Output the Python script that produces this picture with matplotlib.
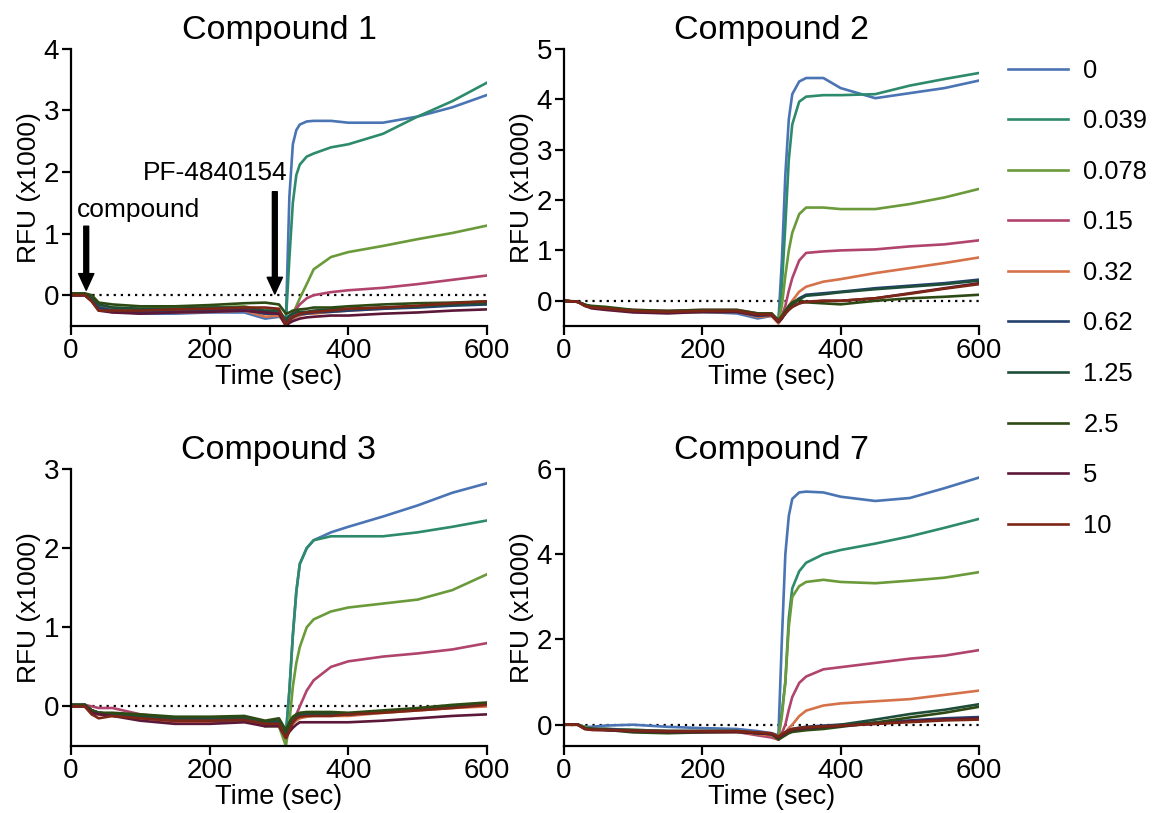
import matplotlib
matplotlib.use("Agg")
import matplotlib.pyplot as plt

plt.rcParams["font.family"] = ["Liberation Sans", "DejaVu Sans"]

time_s = [0, 20, 30, 40, 60, 100, 150, 200, 250, 280, 300, 310, 315, 320,
          325, 330, 340, 350, 375, 400, 450, 500, 550, 600]

concentrations = ["0", "0.039", "0.078", "0.15", "0.32", "0.62", "1.25",
                  "2.5", "5", "10"]
colors = ["#4a74b4", "#2e8a6c", "#6a9a3a", "#b0446c", "#d6724a",
          "#24406e", "#1e4d3a", "#2e4a14", "#5c1838", "#7c2616"]

# RFU (x1000), one list per concentration
cmpd1 = [
    [0.02, 0.02, -0.05, -0.2, -0.25, -0.3, -0.3, -0.28, -0.28, -0.38, -0.35, -0.4, 1.6, 2.45, 2.68, 2.77, 2.82, 2.83, 2.83, 2.8, 2.8, 2.9, 3.05, 3.25],
    [0.0, 0.02, -0.05, -0.15, -0.22, -0.25, -0.25, -0.22, -0.22, -0.28, -0.3, -0.42, 0.6, 1.5, 1.95, 2.12, 2.25, 2.3, 2.4, 2.45, 2.62, 2.9, 3.15, 3.45],
    [0.02, 0.02, -0.05, -0.18, -0.2, -0.22, -0.2, -0.2, -0.18, -0.25, -0.25, -0.42, -0.35, -0.3, -0.18, -0.05, 0.18, 0.42, 0.62, 0.7, 0.8, 0.91, 1.01, 1.13],
    [0.0, 0.0, -0.08, -0.2, -0.25, -0.28, -0.25, -0.25, -0.22, -0.3, -0.3, -0.45, -0.38, -0.3, -0.22, -0.15, -0.05, 0.0, 0.05, 0.08, 0.12, 0.18, 0.25, 0.32],
    [0.0, 0.0, -0.08, -0.22, -0.28, -0.28, -0.28, -0.27, -0.25, -0.35, -0.33, -0.48, -0.42, -0.38, -0.35, -0.33, -0.3, -0.3, -0.27, -0.25, -0.22, -0.18, -0.15, -0.12],
    [0.0, 0.0, -0.08, -0.2, -0.25, -0.27, -0.27, -0.25, -0.24, -0.3, -0.3, -0.45, -0.4, -0.36, -0.33, -0.31, -0.3, -0.28, -0.27, -0.25, -0.22, -0.2, -0.17, -0.15],
    [0.02, 0.02, -0.05, -0.15, -0.2, -0.22, -0.22, -0.2, -0.2, -0.25, -0.25, -0.4, -0.33, -0.3, -0.28, -0.27, -0.27, -0.25, -0.23, -0.22, -0.2, -0.18, -0.15, -0.13],
    [0.03, 0.03, 0.0, -0.12, -0.15, -0.18, -0.18, -0.16, -0.13, -0.12, -0.15, -0.3, -0.28, -0.25, -0.24, -0.23, -0.22, -0.2, -0.2, -0.18, -0.15, -0.13, -0.12, -0.1],
    [0.0, 0.0, -0.1, -0.25, -0.28, -0.3, -0.28, -0.27, -0.25, -0.28, -0.3, -0.5, -0.45, -0.42, -0.4, -0.38, -0.36, -0.35, -0.33, -0.33, -0.3, -0.28, -0.25, -0.23],
    [0.0, 0.0, -0.1, -0.25, -0.25, -0.25, -0.23, -0.22, -0.2, -0.2, -0.22, -0.48, -0.4, -0.35, -0.32, -0.3, -0.28, -0.27, -0.25, -0.22, -0.2, -0.17, -0.13, -0.1],
]
cmpd2 = [
    [0.0, -0.02, -0.08, -0.12, -0.15, -0.22, -0.22, -0.22, -0.25, -0.35, -0.3, -0.4, 0.8, 2.5, 3.6, 4.1, 4.35, 4.42, 4.42, 4.22, 4.02, 4.12, 4.22, 4.37],
    [0.0, -0.02, -0.08, -0.12, -0.15, -0.2, -0.22, -0.22, -0.22, -0.3, -0.28, -0.4, 0.3, 1.5, 2.8, 3.5, 3.95, 4.05, 4.08, 4.08, 4.1, 4.27, 4.4, 4.52],
    [0.0, -0.02, -0.08, -0.12, -0.15, -0.2, -0.22, -0.2, -0.2, -0.28, -0.25, -0.4, -0.1, 0.5, 1.0, 1.35, 1.72, 1.85, 1.85, 1.82, 1.82, 1.92, 2.05, 2.22],
    [0.0, -0.02, -0.08, -0.12, -0.15, -0.18, -0.2, -0.18, -0.18, -0.25, -0.25, -0.42, -0.3, -0.1, 0.2, 0.45, 0.8, 0.95, 0.98, 1.0, 1.02, 1.08, 1.12, 1.2],
    [0.0, -0.02, -0.08, -0.12, -0.15, -0.2, -0.22, -0.22, -0.22, -0.32, -0.3, -0.45, -0.35, -0.22, -0.1, 0.0, 0.18, 0.28, 0.38, 0.43, 0.55, 0.65, 0.75, 0.86],
    [0.0, -0.02, -0.08, -0.12, -0.15, -0.2, -0.22, -0.22, -0.22, -0.3, -0.28, -0.42, -0.35, -0.25, -0.15, -0.05, 0.05, 0.12, 0.15, 0.18, 0.25, 0.3, 0.35, 0.42],
    [0.0, -0.02, -0.08, -0.12, -0.15, -0.2, -0.22, -0.2, -0.2, -0.27, -0.27, -0.4, -0.33, -0.25, -0.15, -0.08, 0.03, 0.1, 0.13, 0.17, 0.23, 0.28, 0.33, 0.4],
    [0.0, -0.02, -0.08, -0.1, -0.12, -0.18, -0.2, -0.18, -0.18, -0.25, -0.25, -0.38, -0.3, -0.2, -0.1, -0.03, 0.02, -0.03, -0.05, -0.07, 0.0, 0.05, 0.08, 0.12],
    [0.0, -0.02, -0.1, -0.15, -0.18, -0.23, -0.25, -0.22, -0.22, -0.28, -0.28, -0.42, -0.35, -0.25, -0.18, -0.12, -0.05, -0.02, 0.0, 0.0, 0.05, 0.15, 0.25, 0.35],
    [0.0, -0.02, -0.1, -0.13, -0.15, -0.2, -0.22, -0.2, -0.2, -0.27, -0.27, -0.4, -0.33, -0.25, -0.18, -0.12, -0.05, -0.02, 0.0, 0.0, 0.05, 0.14, 0.24, 0.33],
]
cmpd3 = [
    [0.0, 0.02, -0.05, -0.08, -0.1, -0.12, -0.2, -0.2, -0.17, -0.25, -0.22, -0.35, 0.2, 0.9, 1.45, 1.8, 2.0, 2.1, 2.2, 2.27, 2.4, 2.54, 2.7, 2.82],
    [0.0, 0.02, -0.05, -0.08, -0.1, -0.12, -0.18, -0.18, -0.17, -0.22, -0.2, -0.35, 0.2, 0.9, 1.45, 1.8, 2.0, 2.1, 2.15, 2.15, 2.15, 2.2, 2.27, 2.35],
    [0.0, 0.02, -0.05, -0.08, -0.1, -0.12, -0.18, -0.18, -0.15, -0.25, -0.25, -0.5, -0.2, 0.25, 0.55, 0.75, 1.0, 1.1, 1.2, 1.25, 1.3, 1.35, 1.47, 1.67],
    [0.02, 0.02, 0.0, -0.02, -0.02, -0.1, -0.15, -0.17, -0.15, -0.2, -0.2, -0.35, -0.3, -0.2, -0.1, 0.0, 0.2, 0.33, 0.5, 0.57, 0.63, 0.67, 0.72, 0.8],
    [0.0, 0.0, -0.1, -0.1, -0.12, -0.15, -0.2, -0.2, -0.18, -0.22, -0.22, -0.4, -0.3, -0.22, -0.18, -0.15, -0.13, -0.12, -0.12, -0.12, -0.08, -0.05, -0.02, 0.0],
    [0.02, 0.02, -0.05, -0.08, -0.1, -0.13, -0.18, -0.18, -0.17, -0.22, -0.2, -0.38, -0.28, -0.2, -0.15, -0.12, -0.1, -0.1, -0.1, -0.1, -0.07, -0.03, 0.0, 0.03],
    [0.02, 0.02, -0.05, -0.08, -0.1, -0.12, -0.15, -0.15, -0.15, -0.2, -0.18, -0.35, -0.25, -0.18, -0.13, -0.1, -0.08, -0.1, -0.1, -0.1, -0.07, -0.03, 0.0, 0.04],
    [0.02, 0.02, -0.05, -0.08, -0.08, -0.1, -0.13, -0.13, -0.12, -0.18, -0.15, -0.3, -0.2, -0.13, -0.1, -0.08, -0.07, -0.07, -0.07, -0.08, -0.05, -0.02, 0.02, 0.05],
    [0.0, 0.0, -0.08, -0.1, -0.12, -0.18, -0.22, -0.22, -0.2, -0.25, -0.25, -0.4, -0.32, -0.27, -0.23, -0.2, -0.2, -0.2, -0.2, -0.2, -0.18, -0.15, -0.12, -0.1],
    [0.0, 0.0, -0.1, -0.15, -0.12, -0.15, -0.18, -0.18, -0.17, -0.22, -0.22, -0.4, -0.3, -0.2, -0.15, -0.13, -0.12, -0.12, -0.12, -0.1, -0.08, -0.05, -0.02, 0.02],
]
cmpd7 = [
    [0.0, 0.0, -0.05, -0.05, -0.02, 0.0, -0.05, -0.08, -0.1, -0.15, -0.2, -0.25, 2.0, 4.0, 4.9, 5.3, 5.45, 5.47, 5.45, 5.35, 5.25, 5.32, 5.55, 5.8],
    [0.0, 0.0, -0.05, -0.1, -0.1, -0.12, -0.15, -0.15, -0.15, -0.2, -0.22, -0.3, 0.3, 1.0, 2.5, 3.2, 3.6, 3.8, 4.0, 4.1, 4.25, 4.42, 4.62, 4.83],
    [0.0, 0.0, -0.05, -0.1, -0.1, -0.12, -0.15, -0.15, -0.15, -0.2, -0.22, -0.3, 0.2, 1.0, 2.3, 3.0, 3.25, 3.35, 3.4, 3.35, 3.32, 3.38, 3.45, 3.58],
    [0.0, 0.0, -0.08, -0.12, -0.12, -0.15, -0.17, -0.17, -0.17, -0.25, -0.3, -0.35, -0.2, 0.0, 0.35, 0.65, 0.98, 1.13, 1.3, 1.35, 1.45, 1.55, 1.62, 1.75],
    [0.0, 0.0, -0.08, -0.1, -0.12, -0.15, -0.17, -0.17, -0.17, -0.22, -0.25, -0.35, -0.28, -0.18, -0.08, 0.0, 0.2, 0.33, 0.45, 0.5, 0.55, 0.6, 0.7, 0.8],
    [0.0, 0.0, -0.08, -0.1, -0.1, -0.13, -0.15, -0.15, -0.15, -0.2, -0.22, -0.3, -0.25, -0.18, -0.13, -0.1, -0.07, -0.05, -0.02, 0.0, 0.05, 0.1, 0.15, 0.18],
    [0.0, 0.0, -0.08, -0.1, -0.12, -0.15, -0.17, -0.17, -0.15, -0.2, -0.22, -0.32, -0.27, -0.22, -0.18, -0.15, -0.12, -0.1, -0.05, 0.0, 0.12, 0.25, 0.35, 0.48],
    [0.0, 0.0, -0.08, -0.1, -0.12, -0.18, -0.2, -0.18, -0.17, -0.2, -0.22, -0.35, -0.3, -0.25, -0.2, -0.17, -0.15, -0.13, -0.1, -0.05, 0.05, 0.17, 0.28, 0.42],
    [0.0, 0.0, -0.1, -0.12, -0.13, -0.15, -0.17, -0.17, -0.17, -0.2, -0.22, -0.3, -0.25, -0.2, -0.15, -0.12, -0.1, -0.08, -0.05, -0.03, 0.02, 0.08, 0.12, 0.15],
    [0.0, 0.0, -0.1, -0.12, -0.12, -0.14, -0.15, -0.15, -0.15, -0.18, -0.2, -0.28, -0.22, -0.18, -0.13, -0.1, -0.08, -0.06, -0.04, -0.02, 0.02, 0.06, 0.1, 0.12],
]

panels = [
    ("Compound 1", cmpd1, 4, [0, 1, 2, 3, 4]),
    ("Compound 2", cmpd2, 5, [0, 1, 2, 3, 4, 5]),
    ("Compound 3", cmpd3, 3, [0, 1, 2, 3]),
    ("Compound 7", cmpd7, 6, [0, 2, 4, 6]),
]
rects = [
    [0.0615, 0.599, 0.3605, 0.341],
    [0.4887, 0.599, 0.3597, 0.341],
    [0.0615, 0.0824, 0.3605, 0.3407],
    [0.4887, 0.0824, 0.3597, 0.3407],
]

fig = plt.figure(figsize=(11.54, 8.13), dpi=100)
axes = []
for rect, (title, series, ytop, yticks) in zip(rects, panels):
    ax = fig.add_axes(rect)
    ax.plot([0, 600], [0, 0], color="black", lw=1.6, ls=(0, (1, 2.2)), zorder=1)
    for vals, col, lab in zip(series, colors, concentrations):
        ax.plot(time_s, vals, color=col, lw=1.9, label=lab, zorder=2)
    ax.set_xlim(0, 600)
    ax.set_ylim(-0.5, ytop)
    ax.set_xticks([0, 200, 400, 600])
    ax.set_yticks(yticks)
    for side in ("top", "right"):
        ax.spines[side].set_visible(False)
    for side in ("left", "bottom"):
        ax.spines[side].set_linewidth(1.6)
    ax.tick_params(direction="out", length=6.5, width=1.6, labelsize=20, pad=2)
    ax.set_xlabel("Time (sec)", fontsize=19.5, labelpad=0)
    ax.set_ylabel("RFU (x1000)", fontsize=19, labelpad=2)
    ax.set_title(title, fontsize=24.5, pad=7)
    axes.append(ax)

ax1 = axes[0]
arrow = dict(facecolor="black", edgecolor="black", width=3.5, headwidth=11,
             headlength=12, shrink=0)
ax1.annotate("", xy=(22, 0.08), xytext=(22, 1.12), arrowprops=arrow)
ax1.annotate("", xy=(294, 0.02), xytext=(294, 1.68), arrowprops=arrow)
ax1.text(9, 1.39, "compound", fontsize=19, ha="left", va="center")
ax1.text(312, 1.99, "PF-4840154", fontsize=19, ha="right", va="center")

handles, labels = ax1.get_legend_handles_labels()
fig.legend(handles, labels, loc="upper left", bbox_to_anchor=(0.8735, 0.928),
           frameon=False, fontsize=18.4, handlelength=2.35, handletextpad=0.6,
           labelspacing=1.04, borderpad=0, borderaxespad=0)

fig.savefig("out.png", dpi=100)
